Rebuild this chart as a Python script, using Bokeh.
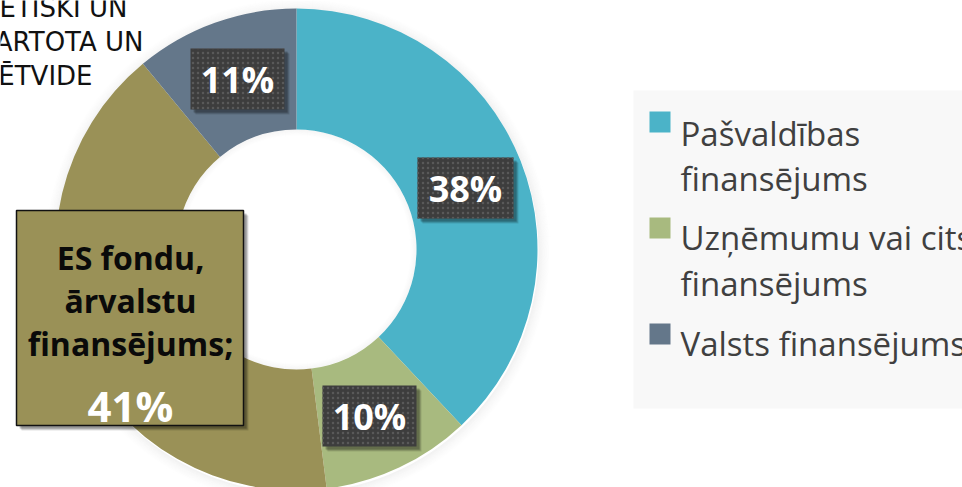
import numpy as np
from bokeh.plotting import figure
from bokeh.models import Range1d
from bokeh.core.properties import value
from bokeh.embed import file_html
from bokeh.resources import INLINE

# ---- data ----
categories = ["Pašvaldības finansējums", "Uzņēmumu vai cits finansējums",
              "ES fondu, ārvalstu finansējums", "Valsts finansējums"]
shares = [38, 10, 41, 11]
colors = ["#4BB3C8", "#A8BA7F", "#9A9157", "#64778A"]
legend_lines = [["Pašvaldības", "finansējums"], ["Uzņēmumu vai cits", "finansējums"], ["Valsts finansējums"]]
legend_idx = [0, 1, 3]
title_lines = ["ĒTISKI UN", "ARTOTA UN", "ĒTVIDE"]
es_label_lines = ["ES fondu,", "ārvalstu", "finansējums;"]

# ---- layout (reference pixel coords; y measured from top) ----
W, H = 962, 487
def Y(yref):
    return H - yref

cx, cy = 296, Y(249)
ro, ri = 241, 120

p = figure(width=W, height=H, x_range=Range1d(0, W), y_range=Range1d(0, H),
           output_backend="svg", toolbar_location=None, x_axis_type=None, y_axis_type=None,
           min_border=0)
p.outline_line_color = None
p.grid.visible = False
p.background_fill_color = "white"
p.border_fill_color = "white"

# soft halo around the donut
for i in range(14):
    p.annulus(x=cx + 1, y=cy - 2, inner_radius=ro + i, outer_radius=ro + i + 1,
              fill_color="black", fill_alpha=0.055 * (1 - i / 14) ** 1.5, line_color=None)
for i in range(8):
    p.annulus(x=cx, y=cy, inner_radius=ri - i - 1, outer_radius=ri - i,
              fill_color="black", fill_alpha=0.04 * (1 - i / 8) ** 1.5, line_color=None)

# donut slices
frac = np.array(shares) / sum(shares)
cum = np.concatenate([[0], np.cumsum(frac)])
start = np.pi / 2 - cum[:-1] * 2 * np.pi
end = np.pi / 2 - cum[1:] * 2 * np.pi
p.annular_wedge(x=cx, y=cy, inner_radius=ri, outer_radius=ro, start_angle=list(start),
                end_angle=list(end), direction="clock", fill_color=colors, line_color=None)

# title fragment (top left)
p.text(x=[127, 143, 92], y=[Y(7), Y(41), Y(75)], text=title_lines, text_align="right",
       text_baseline="alphabetic", text_color="#111111", text_font=value("DejaVu Sans"),
       text_font_size="26px")

# dark percentage boxes for 38%, 10%, 11%
boxes = {0: (417, 513, 157, 218), 1: (322, 416, 385, 446), 3: (190, 284, 48, 109)}
for k, (l, r, t, b) in boxes.items():
    for d, a in [(5, 0.12), (4, 0.15), (3, 0.2)]:
        p.quad(left=l + d, right=r + d, top=Y(t + d), bottom=Y(b + d),
               fill_color="black", fill_alpha=a, line_color=None)
    p.quad(left=l, right=r, top=Y(t), bottom=Y(b), fill_color="#3D3D3D", line_color=None,
           hatch_pattern="dot", hatch_color="#595959", hatch_scale=5, hatch_weight=1.2)
    p.text(x=[(l + r) / 2], y=[Y((t + b) / 2)], text=[f"{shares[k]}%"], text_align="center",
           text_baseline="middle", text_color="white", text_font=value("Open Sans"),
           text_font_style="bold", text_font_size="36px")

# ES funds callout box
l, r, t, b = 16, 243, 210, 425
for d, a in [(5, 0.12), (4, 0.15), (3, 0.2)]:
    p.quad(left=l + d, right=r + d, top=Y(t + d), bottom=Y(b + d),
           fill_color="black", fill_alpha=a, line_color=None)
p.quad(left=l, right=r, top=Y(t), bottom=Y(b), fill_color=colors[2],
       line_color="#111111", line_width=1.5)
p.text(x=[130] * 3, y=[Y(257), Y(300), Y(343)], text=es_label_lines, text_align="center",
       text_baseline="alphabetic", text_color="#0A0A0A", text_font=value("Open Sans"),
       text_font_style="bold", text_font_size="32px")
p.text(x=[130], y=[Y(405)], text=[f"{shares[2]}%"], text_align="center",
       text_baseline="alphabetic", text_color="white", text_font=value("Open Sans"),
       text_font_style="bold", text_font_size="42px")

# legend
p.quad(left=633, right=990, top=Y(90), bottom=Y(408), fill_color="#F8F8F8", line_color=None)
sq_tops = [111, 217, 323]
baselines = [[133, 178], [237, 283], [343]]
for i, k in enumerate(legend_idx):
    p.quad(left=649, right=670, top=Y(sq_tops[i]), bottom=Y(sq_tops[i] + 21),
           fill_color=colors[k], line_color=None)
    p.text(x=[680] * len(legend_lines[i]), y=[Y(v) for v in baselines[i]], text=legend_lines[i],
           text_align="left", text_baseline="alphabetic", text_color="#404040",
           text_font=value("Open Sans"), text_font_size="33px")

open("out.html", "w").write(file_html(p, INLINE))
